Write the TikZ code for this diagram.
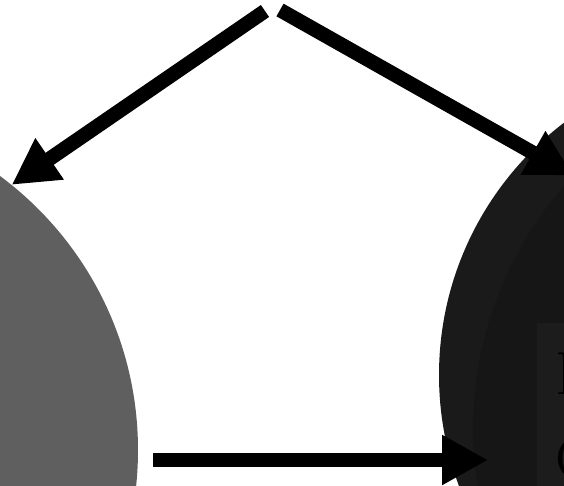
\documentclass[tikz,border=0pt]{standalone}
\usetikzlibrary{arrows.meta,calc}
\definecolor{srcgray}{RGB}{95,95,95}
\definecolor{dstdark}{RGB}{26,26,26}
\definecolor{dstcore}{RGB}{22,22,22}
\definecolor{dstbox}{RGB}{28,28,28}

\begin{document}
\begin{tikzpicture}[x=1pt,y=1pt,>={Triangle[length=46pt,width=47pt]},
  every node/.style={inner sep=0pt},
  flow/.style={->,line width=14.5pt},
  blob/.style={circle,minimum size=#1}]
\path[use as bounding box] (0,-485) rectangle (564,0);

\node[blob=682pt,fill=srcgray] (src) at (-203,-450) {};
\node[blob=634pt,fill=dstdark] (dst) at (756,-375) {};
\begin{scope}
  \clip (dst.center) circle (317);
  \node[blob=746pt,fill=dstcore] (core) at (846,-430) {};
\end{scope}
\node[fill=dstbox,anchor=north west,minimum width=60pt,minimum height=200pt] (box) at (537,-323) {};
\node[font=\fontsize{61}{85}\selectfont,anchor=north west,align=left] (lbl) at (555,-353) {E\\C};

\coordinate (topL) at (265,-11);
\coordinate (topR) at (280,-10);
\coordinate (botS) at (153,-460);
\coordinate (botE) at (488,-460);
\draw[flow] (topL) -- (src.51);
\draw[flow] (topR) -- (core.137);
\draw[flow] (botS) -- (botE);
\end{tikzpicture}
\end{document}
